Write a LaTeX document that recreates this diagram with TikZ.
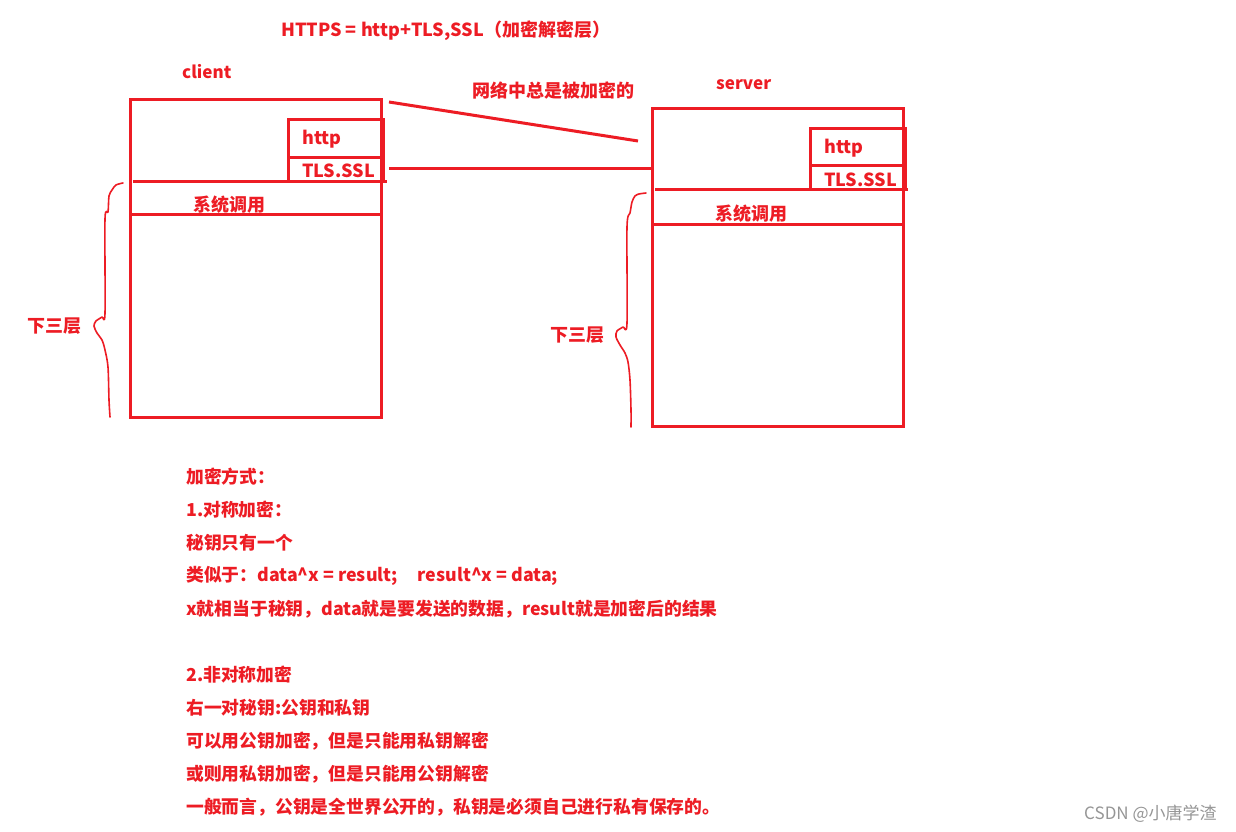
\documentclass[tikz,border=0pt]{standalone}
\usepackage{fontspec}
\setmainfont{Noto Sans CJK SC}
\newfontfamily\wmfont{Noto Sans CJK SC}
\definecolor{pred}{RGB}{237,28,36}
\definecolor{wmgray}{RGB}{150,150,150}
\begin{document}
\begin{tikzpicture}[x=1pt,y=-1pt,
  ln/.style={draw=pred,line width=3pt},
  hand/.style={draw=pred,line width=1.6pt,line cap=round,line join=round},
  txt/.style={text=pred,font=\bfseries\fontsize{18}{21}\selectfont,anchor=west,inner sep=0pt},
  btxt/.style={text=pred,font=\bfseries\fontsize{17.8}{21}\selectfont,anchor=west,inner sep=0pt}]
\useasboundingbox (0,0) rectangle (1236,832);
\fill[white] (0,0) rectangle (1236,832);

% title and labels
\node[txt] (title) at (281,31) {HTTPS = http+TLS,SSL（加密解密层）};
\node[txt,font=\bfseries\fontsize{17}{20}\selectfont] (clientlbl) at (182,72) {client};
\node[txt,font=\bfseries\fontsize{17}{20}\selectfont] (serverlbl) at (716,85) {server};
\node[txt] (netlbl) at (472,91) {网络中总是被加密的};

% client texts
\node[txt] (chttp) at (302,139) {http};
\node[txt] (ctls) at (302,171) {TLS.SSL};
\node[txt] (csys) at (193,205) {系统调用};
% server texts
\node[txt] (shttp) at (824,148) {http};
\node[txt] (stls) at (824,180) {TLS.SSL};
\node[txt] (ssys) at (715,214) {系统调用};

% client stack
\coordinate (cTL) at (130,100);
\coordinate (cBR) at (381,417);
\draw[ln] (cTL) rectangle (cBR);
\draw[ln] (288,181) -- (288,120) -- (383,120) -- (383,181);
\draw[ln] (288,157) -- (383,157);
\draw[ln] (133,181) -- (387,181);
\draw[ln] (130,214) -- (381,214);

% server stack
\coordinate (sTL) at (652,109);
\coordinate (sBR) at (903,426);
\draw[ln] (sTL) rectangle (sBR);
\draw[ln] (810,189) -- (810,129) -- (905,129) -- (905,189);
\draw[ln] (810,165) -- (907,165);
\draw[ln] (655,189) -- (908,189);
\draw[ln] (652,224) -- (903,224);

% network connectors
\coordinate (netA) at (389,102);
\coordinate (netB) at (638,141);
\coordinate (tlsA) at (389,168);
\coordinate (tlsB) at (652,168);
\draw[ln] (netA) -- (netB);
\draw[ln] (tlsA) -- (tlsB);

% braces
\draw[hand] plot[smooth,tension=0.5] coordinates {(123,183) (116,185) (112,190) (109,196) (108,212) (105,219) (105,313) (102,317) (96,321) (94,326) (97,333) (102,340) (105,350) (108,367) (109,400) (110,417)};
\draw[hand] plot[smooth,tension=0.5] coordinates {(646,193) (639,194) (635,196) (632,202) (630,213) (627,227) (627,323) (623,327) (617,331) (616,337) (620,345) (625,353) (628,362) (630,380) (631,410) (631,427)};
\node[txt] (c3) at (27,326) {下三层};
\node[txt] (s3) at (550,335) {下三层};

% notes
\node[btxt] (n1) at (186,477) {加密方式：};
\node[btxt] (n2) at (186,510) {1.对称加密：};
\node[btxt] (n3) at (186,543) {秘钥只有一个};
\node[btxt] (n4) at (186,576) {类似于：data\textasciicircum x = result;\hspace{20pt}result\textasciicircum x = data;};
\node[btxt] (n5) at (186,609) {x就相当于秘钥，data就是要发送的数据，result就是加密后的结果};
\node[btxt] (n6) at (186,675) {2.非对称加密};
\node[btxt] (n7) at (186,708) {右一对秘钥:公钥和私钥};
\node[btxt] (n8) at (186,741) {可以用公钥加密，但是只能用私钥解密};
\node[btxt] (n9) at (186,774) {或则用私钥加密，但是只能用公钥解密};
\node[btxt] (n10) at (186,807) {一般而言，公钥是全世界公开的，私钥是必须自己进行私有保存的。};

\node[anchor=west,inner sep=0pt,text=wmgray,font=\wmfont\fontsize{17}{20}\selectfont] (wm) at (1084,814) {CSDN @小唐学渣};
\end{tikzpicture}
\end{document}
